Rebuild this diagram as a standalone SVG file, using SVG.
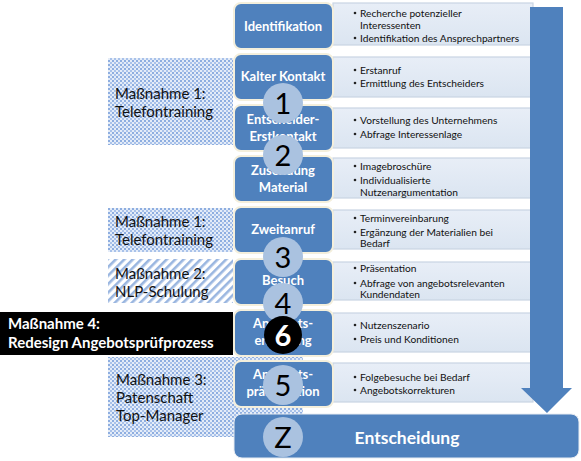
<svg xmlns="http://www.w3.org/2000/svg" width="581" height="461" viewBox="0 0 581 461">
<defs>
<pattern id="dots" width="4" height="4" patternUnits="userSpaceOnUse">
<rect width="4" height="4" fill="#e4ecf8"/>
<rect width="2" height="2" fill="#8eaee0"/>
<rect x="2" y="2" width="2" height="2" fill="#a9c2ea"/>
</pattern>
<pattern id="stripes" width="6" height="6" patternUnits="userSpaceOnUse" patternTransform="rotate(45)">
<rect width="6" height="6" fill="#ffffff"/>
<rect width="2.6" height="6" fill="#9ab6e0"/>
</pattern>
<linearGradient id="lg" x1="0" y1="0" x2="0" y2="1">
<stop offset="0" stop-color="#e8eef7"/>
<stop offset="1" stop-color="#dbe5f1"/>
</linearGradient>
</defs>
<style>
.light{fill:url(#lg);stroke:#c9d4e3;stroke-width:1.2}
.blue{fill:#4f81bd;stroke:#f4efdc;stroke-width:2}
.bl{font-family:Lato,"Liberation Sans",sans-serif;font-weight:bold;font-size:13px;fill:#ffffff;text-anchor:middle}
.bt{font-family:Lato,"Liberation Sans",sans-serif;font-size:10.2px;fill:#111111}
.lt{font-family:Lato,"Liberation Sans",sans-serif;font-size:15px;fill:#111111}
.wt{font-family:Lato,"Liberation Sans",sans-serif;font-size:15px;font-weight:bold;fill:#ffffff}
.circ{fill:#aac2e0}
.num{font-family:Lato,"Liberation Sans",sans-serif;font-size:29px;fill:#000000;text-anchor:middle}
.dot{fill:#222222}
</style>

<g id="measures">
<g id="m1a"><rect x="108" y="58" width="125" height="87" fill="url(#dots)"/>
<text class="lt" x="115" y="99">Maßnahme 1:</text><text class="lt" x="115" y="117">Telefontraining</text></g>
<g id="m1b"><rect x="108" y="208" width="125" height="44" fill="url(#dots)"/>
<text class="lt" x="115" y="227">Maßnahme 1:</text><text class="lt" x="115" y="245">Telefontraining</text></g>
<g id="m2"><rect x="108" y="259" width="125" height="44" fill="url(#stripes)"/>
<text class="lt" x="115" y="279">Maßnahme 2:</text><text class="lt" x="115" y="297">NLP-Schulung</text></g>
<g id="m3"><rect x="108" y="357" width="195" height="80" fill="url(#dots)"/>
<text class="lt" x="116" y="385">Maßnahme 3:</text><text class="lt" x="116" y="403">Patenschaft</text><text class="lt" x="116" y="421">Top-Manager</text></g>
<g id="m4"><rect x="0" y="312" width="233" height="43" fill="#000000"/>
<text class="wt" x="8" y="329">Maßnahme 4:</text><text class="wt" x="8" y="348">Redesign Angebotsprüfprozess</text></g>
</g>

<g id="details">
<rect class="light" x="333" y="3" width="200" height="42"/>
<rect class="light" x="333" y="57" width="200" height="40"/>
<rect class="light" x="333" y="108" width="200" height="40"/>
<rect class="light" x="333" y="158" width="200" height="40"/>
<rect class="light" x="333" y="210" width="200" height="39"/>
<rect class="light" x="333" y="262" width="200" height="38"/>
<rect class="light" x="333" y="313" width="200" height="39"/>
<rect class="light" x="333" y="363" width="200" height="39"/>
<g id="bullets">
<circle class="dot" cx="355" cy="13" r="1.3"/><text class="bt" x="360" y="16.5">Recherche potenzieller</text><text class="bt" x="360" y="28.5">Interessenten</text>
<circle class="dot" cx="355" cy="38" r="1.3"/><text class="bt" x="360" y="41.5">Identifikation des Ansprechpartners</text>
<circle class="dot" cx="355" cy="70" r="1.3"/><text class="bt" x="360" y="73.5">Erstanruf</text>
<circle class="dot" cx="355" cy="83" r="1.3"/><text class="bt" x="360" y="86.5">Ermittlung des Entscheiders</text>
<circle class="dot" cx="355" cy="120" r="1.3"/><text class="bt" x="360" y="123.5">Vorstellung des Unternehmens</text>
<circle class="dot" cx="355" cy="134" r="1.3"/><text class="bt" x="360" y="137.5">Abfrage Interessenlage</text>
<circle class="dot" cx="355" cy="166" r="1.3"/><text class="bt" x="360" y="169.5">Imagebroschüre</text>
<circle class="dot" cx="355" cy="180" r="1.3"/><text class="bt" x="360" y="183.5">Individualisierte</text><text class="bt" x="360" y="195.5">Nutzenargumentation</text>
<circle class="dot" cx="355" cy="218" r="1.3"/><text class="bt" x="360" y="221.5">Terminvereinbarung</text>
<circle class="dot" cx="355" cy="232" r="1.3"/><text class="bt" x="360" y="235.5">Ergänzung der Materialien bei</text><text class="bt" x="360" y="246.5">Bedarf</text>
<circle class="dot" cx="355" cy="268" r="1.3"/><text class="bt" x="360" y="271.5">Präsentation</text>
<circle class="dot" cx="355" cy="283" r="1.3"/><text class="bt" x="360" y="286.5">Abfrage von angebotsrelevanten</text><text class="bt" x="360" y="297.5">Kundendaten</text>
<circle class="dot" cx="355" cy="325" r="1.3"/><text class="bt" x="360" y="328.5">Nutzenszenario</text>
<circle class="dot" cx="355" cy="339" r="1.3"/><text class="bt" x="360" y="342.5">Preis und Konditionen</text>
<circle class="dot" cx="355" cy="377" r="1.3"/><text class="bt" x="360" y="380.5">Folgebesuche bei Bedarf</text>
<circle class="dot" cx="355" cy="390" r="1.3"/><text class="bt" x="360" y="393.5">Angebotskorrekturen</text>
</g>
</g>

<g id="connectors">
<polygon points="530,7 563,7 563,388 572,388 547,413 521,388 530,388" fill="#4f81bd"/>
</g>

<g id="s1"><rect class="blue" x="234" y="3" width="99" height="46" rx="7"/><text class="bl" x="283" y="30.5">Identifikation</text></g>
<g id="s2"><rect class="blue" x="234" y="54" width="99" height="46" rx="7"/><text class="bl" x="283" y="81">Kalter Kontakt</text></g>
<g id="s3"><rect class="blue" x="234" y="105" width="99" height="46" rx="7"/><text class="bl" x="283" y="123.5">Entscheider-</text><text class="bl" x="283" y="140.5">Erstkontakt</text></g>
<g id="s4"><rect class="blue" x="234" y="156" width="99" height="46" rx="7"/><text class="bl" x="283" y="174.5">Zusendung</text><text class="bl" x="283" y="191.5">Material</text></g>
<g id="s5"><rect class="blue" x="234" y="207" width="99" height="46" rx="7"/><text class="bl" x="283" y="234">Zweitanruf</text></g>
<g id="s6"><rect class="blue" x="234" y="259" width="99" height="46" rx="7"/><text class="bl" x="283" y="285">Besuch</text></g>
<g id="s7"><rect class="blue" x="234" y="310" width="99" height="46" rx="7"/><text class="bl" x="283" y="328">Angebots-</text><text class="bl" x="283" y="345">erstellung</text></g>
<g id="s8"><rect class="blue" x="234" y="361" width="99" height="46" rx="7"/><text class="bl" x="283" y="379">Angebots-</text><text class="bl" x="283" y="396">präsentation</text></g>
<g id="final"><rect x="234" y="414" width="345" height="44" rx="8" fill="#4f81bd" stroke="#e8ecf2" stroke-width="1"/><text x="407" y="443.5" font-family="Lato,'Liberation Sans',sans-serif" font-size="17.5px" font-weight="bold" fill="#ffffff" text-anchor="middle">Entscheidung</text></g>

<g id="c1"><circle class="circ" cx="283" cy="103" r="20"/><text class="num" x="283" y="113.5">1</text></g>
<g id="c2"><circle class="circ" cx="283" cy="155" r="20"/><text class="num" x="283" y="165.5">2</text></g>
<g id="c3"><circle class="circ" cx="283" cy="257" r="20"/><text class="num" x="283" y="267.5">3</text></g>
<g id="c4"><circle class="circ" cx="283" cy="303" r="20"/><text class="num" x="283" y="313.5">4</text></g>
<g id="c6"><circle cx="283" cy="335" r="19" fill="#000000"/><text class="num" x="283" y="345.5" font-weight="bold" style="fill:#ffffff">6</text></g>
<g id="c5"><circle class="circ" cx="283" cy="385" r="20"/><text class="num" x="283" y="395.5">5</text></g>
<g id="cz"><circle class="circ" cx="283" cy="437" r="20"/><text class="num" x="283" y="447.5">Z</text></g>
</svg>
